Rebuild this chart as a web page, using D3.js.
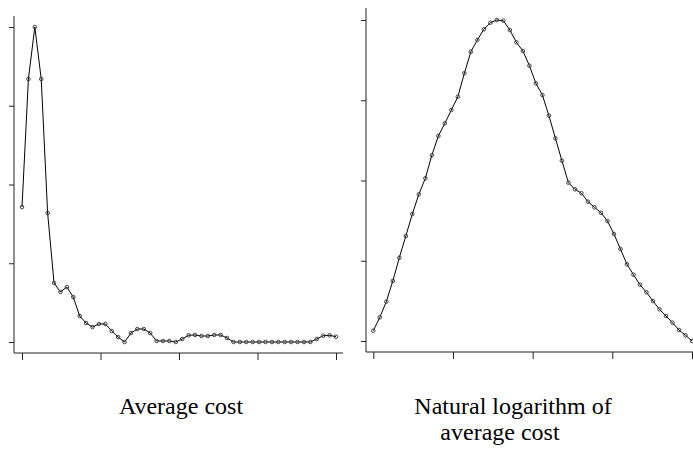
<!DOCTYPE html>
<html>
<head>
<meta charset="utf-8">
<script src="https://cdn.jsdelivr.net/npm/d3@7"></script>
<style>
  html, body { margin: 0; padding: 0; background: #fff; }
  svg { display: block; }
  text { font-family: "Liberation Serif", "Times New Roman", serif; fill: #000; }
</style>
</head>
<body>
<svg id="chart" width="693" height="449"></svg>
<script>
// Density estimates (arbitrary units, 0..4)
const avgCostDensity = [
  1.714, 3.340, 4.000, 3.340, 1.638, 0.749, 0.635, 0.698, 0.571, 0.330,
  0.241, 0.190, 0.229, 0.229, 0.140, 0.063, 0.000, 0.114, 0.165, 0.165,
  0.114, 0.013, 0.013, 0.013, 0.000, 0.038, 0.085, 0.089, 0.076, 0.076,
  0.089, 0.089, 0.051, 0.000, 0.000, 0.000, 0.000, 0.000, 0.000, 0.000,
  0.000, 0.000, 0.000, 0.000, 0.000, 0.000, 0.038, 0.080, 0.085, 0.067
];
const logCostDensity = [
  0.128, 0.295, 0.490, 0.748, 1.038, 1.308, 1.583, 1.828, 2.027, 2.314,
  2.555, 2.713, 2.879, 3.044, 3.336, 3.605, 3.751, 3.884, 3.966, 4.000,
  3.991, 3.875, 3.722, 3.614, 3.431, 3.211, 3.065, 2.808, 2.526, 2.247,
  1.973, 1.890, 1.841, 1.736, 1.666, 1.599, 1.495, 1.333, 1.146, 0.956,
  0.826, 0.702, 0.607, 0.498, 0.395, 0.312, 0.228, 0.137, 0.071, 0.000
];
const xTickValues = [0, 12.25, 24.5, 36.75, 49];
const yTickValues = [0, 1, 2, 3, 4];
const titlesLeft = ["Average cost"];
const titlesRight = ["Natural logarithm of", "average cost"];

const svg = d3.select("#chart");

function panel(cfg) {
  const g = svg.append("g");
  const x = d3.scaleLinear().domain([0, cfg.data.length - 1]).range(cfg.xr);
  const y = d3.scaleLinear().domain([0, 4]).range(cfg.yr);

  // axis lines (L-shaped frame)
  g.append("line").attr("x1", cfg.ax).attr("x2", cfg.ax)
    .attr("y1", cfg.axTop).attr("y2", cfg.ay)
    .attr("stroke", "#222").attr("stroke-width", 1);
  g.append("line").attr("x1", cfg.ax).attr("x2", cfg.axRight)
    .attr("y1", cfg.ay).attr("y2", cfg.ay)
    .attr("stroke", "#222").attr("stroke-width", 1);

  const yAxis = d3.axisLeft(y).tickValues(yTickValues).tickSize(5).tickFormat("");
  const ya = g.append("g").attr("transform", `translate(${cfg.ax},0)`).call(yAxis);
  ya.select(".domain").remove();
  ya.selectAll("line").attr("stroke", "#222");

  const xAxis = d3.axisBottom(x).tickValues(xTickValues).tickSize(7).tickFormat("");
  const xa = g.append("g").attr("transform", `translate(0,${cfg.ay})`).call(xAxis);
  xa.select(".domain").remove();
  xa.selectAll("line").attr("stroke", "#222");

  const line = d3.line().x((d, i) => x(i)).y(d => y(d));
  g.append("path").datum(cfg.data).attr("d", line)
    .attr("fill", "none").attr("stroke", "#000").attr("stroke-width", 1);

  g.selectAll("circle.pt").data(cfg.data).join("circle")
    .attr("class", "pt")
    .attr("cx", (d, i) => x(i)).attr("cy", d => y(d))
    .attr("r", 1.8)
    .attr("fill", "none").attr("stroke", "#333").attr("stroke-width", 0.9);

  cfg.titles.forEach((t, k) => {
    g.append("text").attr("x", cfg.tx[k]).attr("y", cfg.ty[k])
      .attr("text-anchor", "middle").attr("font-size", 24).text(t);
  });
}

panel({
  data: avgCostDensity, xr: [22, 336], yr: [342, 27],
  ax: 14, ay: 353, axTop: 16, axRight: 343,
  titles: titlesLeft, tx: [181], ty: [414]
});
panel({
  data: logCostDensity, xr: [373.3, 692], yr: [341, 20],
  ax: 366, ay: 352, axTop: 8, axRight: 693,
  titles: titlesRight, tx: [513, 500], ty: [414, 440]
});
</script>
</body>
</html>
